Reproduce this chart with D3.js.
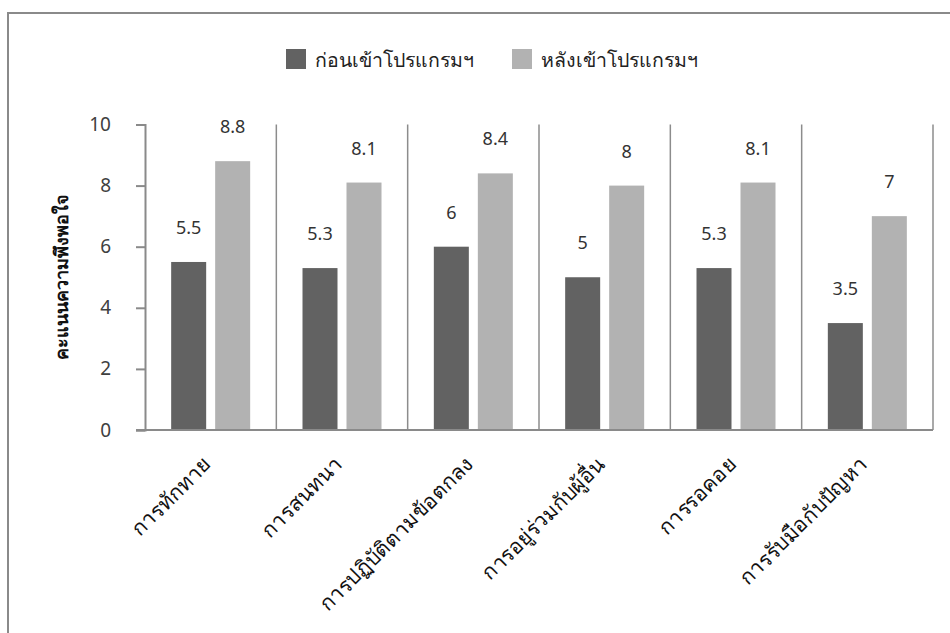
<!DOCTYPE html>
<html>
<head>
<meta charset="utf-8">
<script src="https://cdn.jsdelivr.net/npm/d3@7"></script>
<style>
  html, body { margin: 0; padding: 0; background: #fff; }
  svg { display: block; }
  text { font-family: "Noto Sans", "Open Sans", sans-serif; }
</style>
</head>
<body>
<svg id="chart" width="950" height="633"></svg>
<script>
// Satisfaction scores before and after the programme, per skill area
const categories = ["การทักทาย", "การสนทนา", "การปฏิบัติตามข้อตกลง", "การอยู่ร่วมกับผู้อื่น", "การรอคอย", "การรับมือกับปัญหา"];
const beforeValues = [5.5, 5.3, 6, 5, 5.3, 3.5];
const afterValues = [8.8, 8.1, 8.4, 8, 8.1, 7];
const seriesNames = ["ก่อนเข้าโปรแกรมฯ", "หลังเข้าโปรแกรมฯ"];
const yTicks = [0, 2, 4, 6, 8, 10];
const yTitle = "คะแนนความพึงพอใจ";

const colors = ["#626262", "#b2b2b2"];
const svg = d3.select("#chart");

// outer frame
svg.append("rect")
  .attr("x", 8).attr("y", 13)
  .attr("width", 960).attr("height", 640)
  .attr("fill", "none").attr("stroke", "#8a8a8a").attr("stroke-width", 2);

const plot = { left: 145, right: 933, top: 124.5, bottom: 430 };

const x = d3.scaleBand().domain(categories).range([plot.left, plot.right]);
const y = d3.scaleLinear().domain([0, 10]).range([plot.bottom, plot.top]);

const series = [beforeValues, afterValues];
const barW = 35, gap = 9;
const groupW = barW * 2 + gap;

// vertical gridlines at category boundaries
const bounds = categories.map(c => x(c) + x.bandwidth());
svg.append("g").selectAll("line").data(bounds).join("line")
  .attr("x1", d => d).attr("x2", d => d)
  .attr("y1", plot.top).attr("y2", plot.bottom)
  .attr("stroke", "#8c8c8c").attr("stroke-width", 1.5);

// bars
series.forEach((vals, si) => {
  const g = svg.append("g");
  g.selectAll("rect").data(vals).join("rect")
    .attr("x", (d, i) => x(categories[i]) + (x.bandwidth() - groupW) / 2 + si * (barW + gap))
    .attr("y", d => y(d))
    .attr("width", barW)
    .attr("height", d => plot.bottom - y(d))
    .attr("fill", colors[si]);
  g.selectAll("text").data(vals).join("text")
    .attr("x", (d, i) => x(categories[i]) + (x.bandwidth() - groupW) / 2 + si * (barW + gap) + barW / 2)
    .attr("y", d => y(d) - 28)
    .attr("text-anchor", "middle")
    .attr("font-size", 18)
    .attr("fill", "#333")
    .attr("font-family", "'Liberation Sans', Arial, sans-serif")
    .text(d => d);
});

// y axis
const yAxis = d3.axisLeft(y).tickValues(yTicks).tickSize(9).tickPadding(25).tickFormat(d3.format("d"));
const yg = svg.append("g").attr("transform", `translate(${plot.left},0)`).call(yAxis);
yg.select(".domain").attr("stroke", "#8a8a8a").attr("stroke-width", 2);
yg.selectAll(".tick line").attr("stroke", "#8a8a8a").attr("stroke-width", 2);
yg.selectAll(".tick text").attr("font-size", 19).attr("fill", "#404040")
  .attr("font-family", "'Liberation Sans', Arial, sans-serif");

// x axis
svg.append("line")
  .attr("x1", plot.left - 9).attr("x2", plot.right)
  .attr("y1", plot.bottom).attr("y2", plot.bottom)
  .attr("stroke", "#8a8a8a").attr("stroke-width", 2);

// rotated category labels
svg.append("g").selectAll("text").data(categories).join("text")
  .attr("transform", d => `translate(${x(d) + x.bandwidth() / 2 + 1},${plot.bottom + 36}) rotate(-45)`)
  .attr("text-anchor", "end")
  .attr("font-size", 21)
  .attr("fill", "#111")
  .text(d => d);

// y title
svg.append("text")
  .attr("transform", `translate(68,277) rotate(-90)`)
  .attr("text-anchor", "middle")
  .attr("font-size", 18)
  .attr("font-weight", "bold")
  .attr("fill", "#111")
  .text(yTitle);

// legend
const legendX = [286, 512];
seriesNames.forEach((name, i) => {
  svg.append("rect")
    .attr("x", legendX[i]).attr("y", 49)
    .attr("width", 20).attr("height", 20)
    .attr("fill", colors[i]);
  svg.append("text")
    .attr("x", legendX[i] + 29).attr("y", 67)
    .attr("font-size", 19.5)
    .attr("fill", "#222")
    .text(name);
});
</script>
</body>
</html>
